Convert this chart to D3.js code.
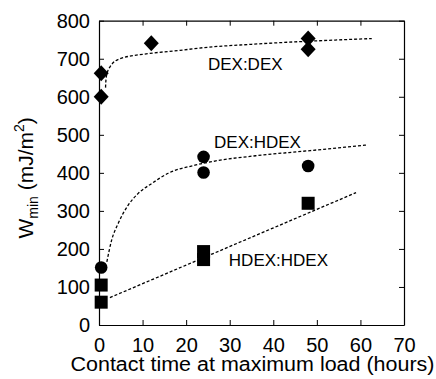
<!DOCTYPE html>
<html>
<head>
<meta charset="utf-8">
<script src="https://cdn.jsdelivr.net/npm/d3@7"></script>
<style>
  body { margin: 0; background: #fff; }
  svg text { font-family: "Liberation Sans", Arial, sans-serif; fill: #000; }
</style>
</head>
<body>
<div id="chart"></div>
<script>
// measured points (hours, mJ/m^2)
var dexDex = [[0.5, 662], [0.5, 600], [12, 741], [48, 753], [48, 725]];
var dexHdex = [[0.5, 151], [24, 442], [24, 401], [48, 418]];
var hdexHdex = [[0.5, 105], [0.5, 60], [24, 193], [24, 172], [48, 320]];

// fitted curves
var fitDexDex = [[1.5, 624], [1.6, 645], [1.9, 663], [2.6, 680], [4.8, 700], [11.7, 714],
                 [18.6, 722], [23, 728], [35, 738], [48, 746], [62.6, 753]];
var fitDexHdex = [[1.8, 166], [2.9, 223], [4.4, 267], [6.7, 315], [9, 346], [12.1, 372],
                  [15.9, 399], [22, 420], [26.6, 431], [36, 445], [48, 458], [61.3, 473]];
var fitHdexHdex = [[2.5, 72], [59, 348]];

var seriesLabels = [
  {text: "DEX:DEX", x: 25, y: 670},
  {text: "DEX:HDEX", x: 26.4, y: 465},
  {text: "HDEX:HDEX", x: 29.8, y: 155}
];

var xTicks = [0, 10, 20, 30, 40, 50, 60, 70];
var yTicks = [0, 100, 200, 300, 400, 500, 600, 700, 800];

var margin = {top: 20.7, right: 32, bottom: 54, left: 99},
    width = 436 - margin.left - margin.right,
    height = 379 - margin.top - margin.bottom;

var svg = d3.select("#chart")
  .append("svg")
    .attr("width", 436)
    .attr("height", 379)
  .append("g")
    .attr("transform", "translate(" + margin.left + "," + margin.top + ")");

var x = d3.scaleLinear().domain([0, 70]).range([0, width]);
var y = d3.scaleLinear().domain([0, 800]).range([height, 0]);

// axes, ticks pointing inward on all four sides
svg.append("g")
  .attr("transform", "translate(0," + height + ")")
  .call(d3.axisBottom(x).tickValues(xTicks).tickSizeInner(-5).tickSizeOuter(0).tickPadding(12.5));
svg.append("g")
  .call(d3.axisLeft(y).tickValues(yTicks).tickSizeInner(-5).tickSizeOuter(0).tickPadding(9));
svg.append("g")
  .call(d3.axisTop(x).tickValues(xTicks).tickSizeInner(-5).tickSizeOuter(0).tickFormat(""));
svg.append("g")
  .attr("transform", "translate(" + width + ",0)")
  .call(d3.axisRight(y).tickValues(yTicks).tickSizeInner(-5).tickSizeOuter(0).tickFormat(""));

svg.selectAll(".domain").attr("stroke", "#000").attr("stroke-width", 1.2);
svg.selectAll(".tick line").attr("stroke", "#000").attr("stroke-width", 1);
svg.selectAll(".tick text").style("font-size", "20px")
  .style("font-family", "Liberation Sans, Arial, sans-serif");

// fit lines
var line = d3.line()
  .x(function(d) { return x(d[0]); })
  .y(function(d) { return y(d[1]); })
  .curve(d3.curveMonotoneX);

[fitDexDex, fitDexHdex, fitHdexHdex].forEach(function(f) {
  svg.append("path")
    .datum(f)
    .attr("d", line)
    .attr("fill", "none")
    .attr("stroke", "#000")
    .attr("stroke-width", 1.3)
    .attr("stroke-dasharray", "3,2");
});

// markers
svg.selectAll("path.diamond")
  .data(dexDex)
  .enter()
  .append("path")
    .attr("class", "diamond")
    .attr("transform", function(d) { return "translate(" + x(d[0]) + "," + y(d[1]) + ")"; })
    .attr("d", "M0,-8L7.5,0L0,8L-7.5,0Z")
    .attr("fill", "#000");

svg.selectAll("circle.pt")
  .data(dexHdex)
  .enter()
  .append("circle")
    .attr("class", "pt")
    .attr("cx", function(d) { return x(d[0]); })
    .attr("cy", function(d) { return y(d[1]); })
    .attr("r", 6.3)
    .attr("fill", "#000");

svg.selectAll("rect.sq")
  .data(hdexHdex)
  .enter()
  .append("rect")
    .attr("class", "sq")
    .attr("x", function(d) { return x(d[0]) - 6.5; })
    .attr("y", function(d) { return y(d[1]) - 6.5; })
    .attr("width", 13)
    .attr("height", 13)
    .attr("fill", "#000");

// series labels
svg.selectAll("text.lab")
  .data(seriesLabels)
  .enter()
  .append("text")
    .attr("class", "lab")
    .attr("x", function(d) { return x(d.x); })
    .attr("y", function(d) { return y(d.y); })
    .style("font-size", "17px")
    .text(function(d) { return d.text; });

// axis titles
svg.append("text")
  .attr("x", width / 2 + 1)
  .attr("y", height + 46.5)
  .attr("text-anchor", "middle")
  .attr("textLength", 364)
  .attr("lengthAdjust", "spacingAndGlyphs")
  .style("font-size", "20px")
  .text("Contact time at maximum load (hours)");

var yt = svg.append("text")
  .attr("transform", "translate(-66," + (height / 2 + 5) + ") rotate(-90)")
  .attr("text-anchor", "middle")
  .style("font-size", "21px");
yt.append("tspan").text("W");
yt.append("tspan").attr("dy", 5).style("font-size", "14px").text("min");
yt.append("tspan").attr("dy", -5).text(" (mJ/m");
yt.append("tspan").attr("dy", -9).style("font-size", "14px").text("2");
yt.append("tspan").attr("dy", 9).text(")");
</script>
</body>
</html>
